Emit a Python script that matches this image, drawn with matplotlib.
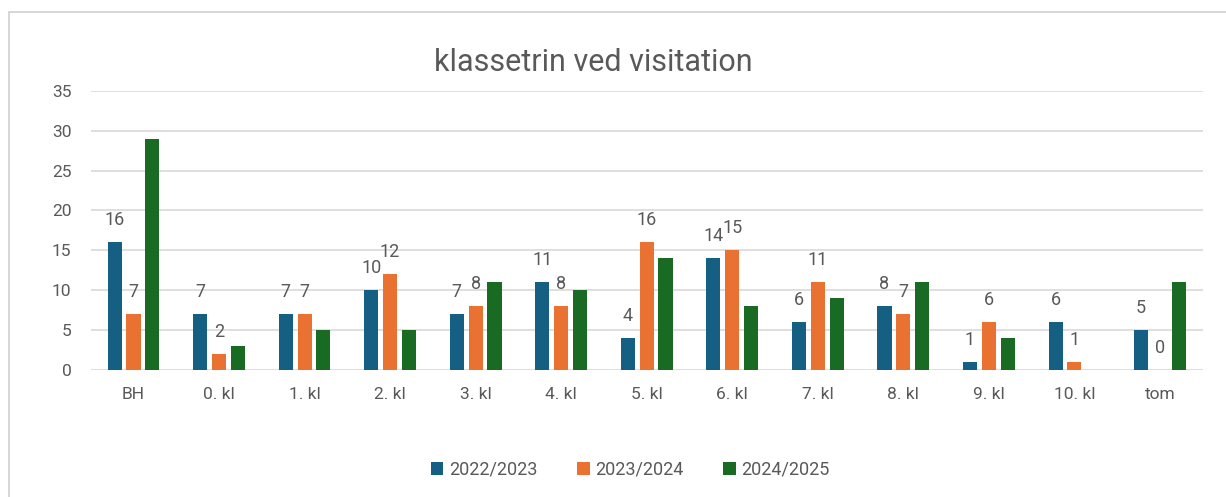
import matplotlib
matplotlib.use('Agg')
import matplotlib.pyplot as plt
import numpy as np
from matplotlib.patches import Rectangle

plt.rcParams['font.family'] = ['Roboto', 'DejaVu Sans']

categories = ['BH', '0. kl', '1. kl', '2. kl', '3. kl', '4. kl', '5. kl',
              '6. kl', '7. kl', '8. kl', '9. kl', '10. kl', 'tom']
series_names = ['2022/2023', '2023/2024', '2024/2025']
v_2022 = [16, 7, 7, 10, 7, 11, 4, 14, 6, 8, 1, 6, 5]
v_2023 = [7, 2, 7, 12, 8, 8, 16, 15, 11, 7, 6, 1, 0]
v_2024 = [29, 3, 5, 5, 11, 10, 14, 8, 9, 11, 4, 0, 11]
colors = ['#156082', '#E97132', '#196B24']
text_col = '#595959'

fig = plt.figure(figsize=(12.26, 4.97), dpi=100)
ax = fig.add_axes([0.074, 0.2555, 0.907, 0.562])

# chart frame
fig.patches.append(Rectangle((0.007, -0.01), 1.0, 0.985, transform=fig.transFigure,
                             fill=False, edgecolor='#d0d0d0', linewidth=1.2))

x = np.arange(len(categories))
w = 0.165
step = 0.22
all_vals = [v_2022, v_2023, v_2024]
for i, (vals, col, name) in enumerate(zip(all_vals, colors, series_names)):
    pos = x + (i - 1) * step
    ax.bar(pos, vals, width=w, color=col, label=name, zorder=3)
    # only first two series have data labels
    if i < 2:
        for p, v in zip(pos, vals):
            ax.annotate(str(v), (p, v), xytext=(0, 16), textcoords='offset points',
                        ha='center', va='center', fontsize=13, color=text_col)

ax.set_xlim(-0.5, len(categories) - 0.5)
ax.set_ylim(0, 35)
ax.set_yticks(range(0, 36, 5))
ax.set_xticks(x)
ax.set_xticklabels(categories)
ax.yaxis.grid(True, color='#d9d9d9', linewidth=1.2, zorder=0)
ax.set_axisbelow(True)
for s in ax.spines.values():
    s.set_visible(False)
ax.tick_params(axis='both', length=0, labelsize=12.5, labelcolor=text_col)
ax.tick_params(axis='x', pad=12)
ax.tick_params(axis='y', pad=14)

fig.text(0.484, 0.875, 'klassetrin ved visitation', ha='center', va='center',
         fontsize=22, color=text_col)

leg = fig.legend(loc='center', bbox_to_anchor=(0.514, 0.055), ncol=3, frameon=False,
                 fontsize=13, handlelength=0.7, handleheight=0.7, handletextpad=0.3,
                 columnspacing=2.2)
for t in leg.get_texts():
    t.set_color(text_col)

fig.savefig('out.png', dpi=100)
